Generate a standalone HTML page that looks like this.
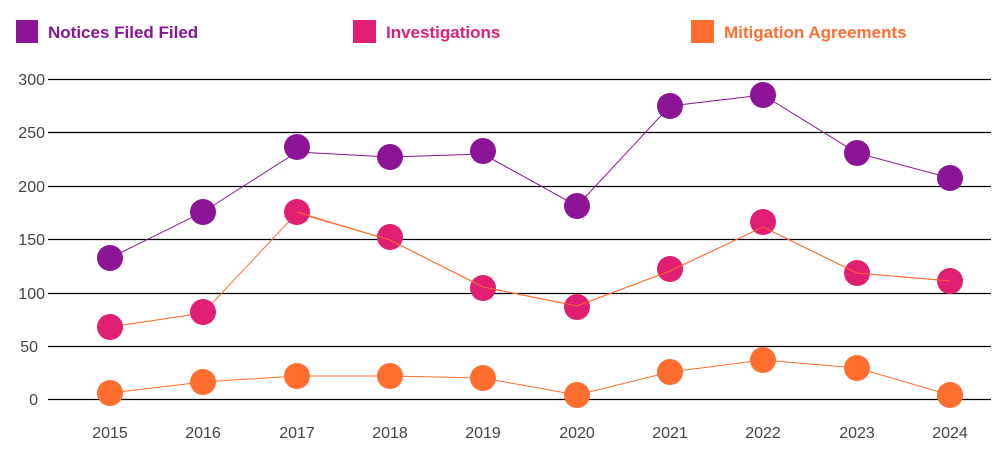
<!DOCTYPE html>
<html><head><meta charset="utf-8"><style>
html,body{margin:0;padding:0;background:#fff;}
svg{display:block;font-family:"Liberation Sans",sans-serif;}
</style></head><body>
<svg width="1008" height="461" viewBox="0 0 1008 461">
<rect x="16" y="20" width="22" height="23" fill="#8B1497"/>
<text x="48" y="38" font-size="17" font-weight="bold" fill="#8B1497">Notices Filed Filed</text>
<rect x="353" y="20" width="23" height="23" fill="#E01E72"/>
<text x="386" y="38" font-size="17" font-weight="bold" fill="#E01E72">Investigations</text>
<rect x="691" y="20" width="23" height="23" fill="#FF6E2F"/>
<text x="724" y="38" font-size="17" font-weight="bold" fill="#FF6E2F">Mitigation Agreements</text>
<g stroke="#000" stroke-width="1.3">
<line x1="48" x2="991" y1="79.5" y2="79.5"/>
<line x1="48" x2="991" y1="132.5" y2="132.5"/>
<line x1="48" x2="991" y1="186.5" y2="186.5"/>
<line x1="48" x2="991" y1="239.5" y2="239.5"/>
<line x1="48" x2="991" y1="293.5" y2="293.5"/>
<line x1="48" x2="991" y1="346.5" y2="346.5"/>
<line x1="48" x2="991" y1="399.5" y2="399.5"/>
</g>
<g font-size="16" fill="#444" text-anchor="end">
<text x="45" y="85">300</text><text x="45" y="138">250</text><text x="45" y="192">200</text>
<text x="45" y="245">150</text><text x="45" y="299">100</text><text x="38" y="352">50</text><text x="38" y="405">0</text>
</g>
<g font-size="16" fill="#444" text-anchor="middle">
<text x="110" y="438">2015</text><text x="203" y="438">2016</text><text x="297" y="438">2017</text><text x="390" y="438">2018</text><text x="483" y="438">2019</text><text x="577" y="438">2020</text><text x="670" y="438">2021</text><text x="763" y="438">2022</text><text x="857" y="438">2023</text><text x="950" y="438">2024</text>
</g>
<polyline fill="none" stroke="#8B1497" stroke-width="1" points="110,258 203,212 297,152 390,157 483,154 577,206 670,106 763,95 857,153 950,178"/>
<polyline fill="none" stroke="#FF6E2F" stroke-width="1" points="110,327 203,313 297,213 390,240 483,287 577,306 670,271 763,227 857,273 950,281"/>
<polyline fill="none" stroke="#FF6E2F" stroke-width="1" points="110,393 203,382 297,376 390,376 483,378 577,395 670,372 763,360 857,368 950,395"/>
<g fill="#8B1497">
<circle cx="110" cy="258" r="13"/><circle cx="203" cy="212" r="13"/><circle cx="297" cy="147" r="13"/><circle cx="390" cy="157" r="13"/><circle cx="483" cy="151" r="13"/><circle cx="577" cy="206" r="13"/><circle cx="670" cy="106" r="13"/><circle cx="763" cy="95" r="13"/><circle cx="857" cy="153" r="13"/><circle cx="950" cy="178" r="13"/>
</g>
<g fill="#E01E72">
<circle cx="110" cy="327" r="13"/><circle cx="203" cy="312" r="13"/><circle cx="297" cy="212" r="13"/><circle cx="390" cy="237" r="13"/><circle cx="483" cy="288" r="13"/><circle cx="577" cy="307" r="13"/><circle cx="670" cy="269" r="13"/><circle cx="763" cy="222" r="13"/><circle cx="857" cy="273" r="13"/><circle cx="950" cy="281" r="13"/>
</g>
<g fill="#FF6E2F">
<circle cx="110" cy="393" r="13"/><circle cx="203" cy="382" r="13"/><circle cx="297" cy="376" r="13"/><circle cx="390" cy="376" r="13"/><circle cx="483" cy="378" r="13"/><circle cx="577" cy="395" r="13"/><circle cx="670" cy="372" r="13"/><circle cx="763" cy="360" r="13"/><circle cx="857" cy="368" r="13"/><circle cx="950" cy="395" r="13"/>
</g>
<g fill="none" stroke-width="1">
<polyline stroke="#FF6E2F" points="297,212 390,240 483,287 577,306 670,271 763,227 857,273 950,281" opacity="0.9"/>
</g>
</svg>
</body></html>
